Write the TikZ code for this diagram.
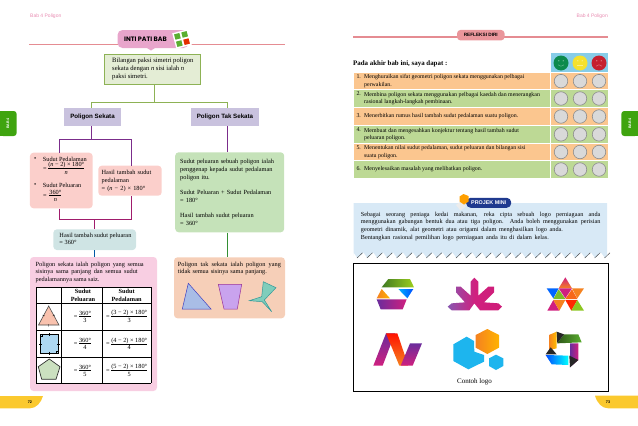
\documentclass[tikz,border=0pt]{standalone}
\usepackage{amsmath}
\usepackage{fontspec}
\setmainfont{Liberation Serif}
\setsansfont{Liberation Sans}
\newfontfamily\titlefont{Poppins}
\definecolor{pinkhead}{HTML}{E88DB2}
\definecolor{ruleline}{HTML}{E58C92}
\definecolor{titlepill}{HTML}{E8A5CB}
\definecolor{leafgreen}{HTML}{E4EDD5}
\definecolor{linegreen}{HTML}{8DB255}
\definecolor{lilac}{HTML}{C9C2DE}
\definecolor{linepurple}{HTML}{7B2D8B}
\definecolor{linewine}{HTML}{A01C6C}
\definecolor{rosebox}{HTML}{FBCFCB}
\definecolor{mistbox}{HTML}{CFE4E4}
\definecolor{mintbox}{HTML}{C5E2B9}
\definecolor{candybox}{HTML}{F8CEE2}
\definecolor{peachbox}{HTML}{F6CFB8}
\definecolor{tabgreen}{HTML}{3FA40F}
\definecolor{tabyellow}{HTML}{FBC92E}
\definecolor{roworange}{HTML}{FBC68F}
\definecolor{rowgreen}{HTML}{BDD995}
\definecolor{skybox}{HTML}{87CDE8}
\definecolor{paleblue}{HTML}{D8E9F6}
\definecolor{navy}{HTML}{1F3A8F}
\definecolor{hotpink}{HTML}{D0207F}
\definecolor{logopurple}{HTML}{6A2C9C}
\definecolor{logoorange}{HTML}{F58220}
\definecolor{logogreen}{HTML}{5BAE31}
\definecolor{logoblue}{HTML}{1DB5EE}
\definecolor{shapetri}{HTML}{F9C2AE}
\definecolor{shapesq}{HTML}{AED8F2}
\definecolor{shapepent}{HTML}{CBE0C0}
\definecolor{shapeblue}{HTML}{A9BDE6}
\definecolor{shapeviolet}{HTML}{C9A3EE}
\definecolor{shapeteal}{HTML}{7FCDBB}
\definecolor{moodgreen}{HTML}{0C8A4C}
\definecolor{moodyellow}{HTML}{F6E12C}
\definecolor{moodred}{HTML}{C5202F}
\newcommand{\pecahan}[2]{\(\vcenter{\offinterlineskip\ialign{\hfil##\hfil\cr
  \vrule height 4.7pt depth 0.7pt width 0pt #1\cr
  \noalign{\hrule height 0.4pt}
  \vrule height 5.8pt depth 0.6pt width 0pt #2\cr}}\)}
\newcommand{\penuh}[2]{\makebox[#1][s]{#2}}
\tikzset{
  bodytext/.style={font=\fontsize{6.3}{7.8}\selectfont, align=left, inner sep=0pt},
  box/.style={rounded corners=3.5pt, inner sep=0pt, align=left, font=\fontsize{6.3}{7.8}\selectfont},
  headbox/.style={fill=lilac, font=\sffamily\bfseries\fontsize{6.2}{7}\selectfont, minimum height=18pt, inner sep=0pt},
  headtext/.style={text=pinkhead, font=\sffamily\fontsize{5}{6}\selectfont, inner sep=0pt},
  pagerule/.style={ruleline, line width=1.2pt},
  tabnode/.style={fill=tabgreen, rounded corners=3pt, minimum width=20pt, minimum height=25pt},
  tabtext/.style={text=white, rotate=90, font=\sffamily\bfseries\fontsize{3.6}{4}\selectfont, inner sep=0pt},
  mood/.style={circle, draw=gray!90, fill=gray!30, line width=0.6pt, minimum size=13.5pt, inner sep=0pt},
  face/.style={circle, minimum size=15pt, inner sep=0pt},
  cell/.style={font=\fontsize{6.3}{7.4}\selectfont, inner sep=0pt, align=center},
  rowtext/.style={font=\fontsize{5.9}{7.5}\selectfont, align=left, inner sep=0pt, anchor=west},
  tickmark/.style={black, line width=0.35pt}
}
\begin{document}
\begin{tikzpicture}[x=1pt,y=-1pt]
\useasboundingbox (0,0) rectangle (638,426);
% left page
\node[headtext,anchor=west] (babL) at (30,16) {Bab 4 Poligon};
\coordinate (ruleLa) at (29,44.6);
\coordinate (ruleLb) at (285,44.6);
\draw[pagerule] (ruleLa) -- (ruleLb);
\fill[titlepill] (147,48) -- (151,50.5) -- (155,48) -- cycle;
\node[fill=titlepill, rounded corners=5pt, minimum width=71pt, minimum height=18pt, inner sep=0pt] (intipill) at (153,39) {};
\node[inner sep=0pt, font=\titlefont\bfseries\fontsize{6.4}{7}\selectfont] (intitext) at (145.5,39) {INTI PATI BAB};
\begin{scope}[shift={(182,39)},rotate=15]
\fill[white] (-8,-8) rectangle (8,8);
\fill[logogreen] (-6.5,-6.5) rectangle (-1,-1);
\fill[logogreen] (1,-6.5) rectangle (6.5,-1);
\fill[logogreen] (-6.5,1) rectangle (-1,6.5);
\fill[red!60!orange!90!black] (1,1) rectangle (6.5,6.5);
\end{scope}
\node[tabnode, minimum width=16.5pt, anchor=west] (tabL) at (0,123.5) {};
\fill[tabgreen] (0,111) rectangle (6,136);
\node[tabtext] (tabLtext) at (8,123.5) {BAB 4};

\node[box, rounded corners=0pt, fill=leafgreen, draw=linegreen, line width=0.7pt, minimum width=96pt, minimum height=30.5pt] (inti) at (152,69.2) {};
\node[bodytext, font=\fontsize{6.6}{7.8}\selectfont, anchor=west] (paksitext) at (112,69.2)
  {Bilangan paksi simetri poligon\\ sekata dengan \textit{n} sisi ialah \textit{n}\\ paksi simetri.};
\node[headbox, minimum width=57pt] (sekata) at (92.5,117) {Poligon Sekata};
\node[headbox, minimum width=68pt] (taksekata) at (225,117) {Poligon Tak Sekata};
\coordinate (tee) at (154,102);
\coordinate (teeL) at (91,102);
\coordinate (teeR) at (227,102);
\draw[linegreen, line width=0.8pt] (inti.south -| tee) -- (tee);
\draw[linegreen, line width=0.8pt] (sekata.north -| teeL) -- (teeL) -- (teeR) -- (taksekata.north -| teeR);

\node[box, fill=rosebox, minimum width=62.7pt, minimum height=55.6pt] (pedalaman) at (61.3,180.5) {};
\node[bodytext, anchor=west] (bulletA) at (34,159) {\textbullet};
\node[bodytext, anchor=west] (labelA) at (42.7,159) {Sudut Pedalaman};
\node[bodytext, anchor=west] (formulaA) at (43,168.7) {= \pecahan{(\textit{n} − 2) × 180°}{\textit{n}}};
\node[bodytext, anchor=west] (bulletB) at (34,185) {\textbullet};
\node[bodytext, anchor=west] (labelB) at (42.7,185) {Sudut Peluaran};
\node[bodytext, anchor=west] (formulaB) at (43,195.7) {= \,\pecahan{360°}{\textit{n}}};
\node[box, fill=rosebox, minimum width=63.4pt, minimum height=30pt, text width=56.6pt] (hasildalam) at (130,180.7)
  {Hasil tambah sudut\\ pedalaman\\ = (\textit{n} − 2) × 180°};
\node[box, fill=mistbox, minimum width=82.7pt, minimum height=20.7pt] (hasilluar) at (94.7,239.7) {};
\node[bodytext, anchor=west] (hasilluartext) at (59.3,238.8) {Hasil tambah sudut peluaran\\ = 360°};
\node[box, fill=mintbox, minimum width=109pt, minimum height=80pt, text width=99pt] (ciritak) at (229.7,192.3)
  {Sudut peluaran sebuah poligon ialah\\ penggenap kepada sudut pedalaman\\ poligon itu.\\[7.5pt]
   Sudut Peluaran + Sudut Pedalaman\\ = 180°\\[7.5pt]
   Hasil tambah sudut peluaran\\ = 360°};
\node[box, fill=candybox, minimum width=127pt, minimum height=134pt] (cirisekata) at (93.5,324) {};
\node[box, fill=peachbox, minimum width=111pt, minimum height=61pt] (contohtak) at (229.5,287.8) {};

\coordinate (purpleL) at (59.5,139);
\coordinate (purpleR) at (131,139);
\coordinate (winejoin) at (94,219.5);
\draw[linepurple, line width=0.8pt] (sekata.south -| teeL) -- (teeL |- purpleL);
\draw[linepurple, line width=0.8pt] (pedalaman.north -| purpleL) -- (purpleL) -- (purpleR) -- (hasildalam.north -| purpleR);
\draw[linepurple, line width=0.8pt] (taksekata.south -| teeR) -- (ciritak.north -| teeR);
\draw[linewine, line width=0.8pt] (pedalaman.south -| purpleL) -- (purpleL |- winejoin) -- (purpleR |- winejoin) -- (hasildalam.south -| purpleR);
\draw[linewine, line width=0.8pt] (winejoin) -- (hasilluar.north -| winejoin);
\draw[teal!70!blue, line width=0.8pt] (hasilluar.south -| winejoin) -- (cirisekata.north -| winejoin);
\draw[green!45!black!80, line width=0.8pt] (ciritak.south -| teeR) -- (contohtak.north -| teeR);

\node[bodytext, anchor=north west] (sekatatext) at (35.5,261.5)
  {\penuh{108pt}{Poligon sekata ialah poligon yang semua}\\ \penuh{102pt}{sisinya sama panjang dan semua sudut}\\ pedalamannya sama saiz.};
\node[bodytext, anchor=north west] (taktext) at (177.7,261.5)
  {\penuh{103pt}{Poligon tak sekata ialah poligon yang}\\ \penuh{89pt}{tidak semua sisinya sama panjang.}};
\filldraw[fill=shapeblue, draw=blue!50!gray, line width=0.5pt] (188.3,283.3) -- (211,309) -- (182.3,309) -- cycle;
\filldraw[fill=shapeviolet, draw=violet!80, line width=0.5pt] (218.3,284.3) -- (241.7,284.3) -- (237.3,309) -- (224,309) -- cycle;
\filldraw[fill=shapeteal, draw=teal!80, line width=0.5pt] (263.3,281.7) -- (276,287.7) -- (264.3,300) -- (271.7,311.7) -- (262.3,301.7) -- (249.3,300.7) -- (261.7,296.7) -- cycle;

% table
\fill[white] (36,287.3) rectangle (151,383);
\foreach \linex in {36,61.5,102.5,151}
  \draw[black, line width=0.8pt] (\linex,287.3) -- (\linex,383);
\foreach \liney in {287.3,303.5,330,357,383}
  \draw[black, line width=0.8pt] (36,\liney) -- (151,\liney);
\node[cell, font=\bfseries\fontsize{6.3}{7.6}\selectfont] (hluar) at (83,295.5) {Sudut\\ Peluaran};
\node[cell, font=\bfseries\fontsize{6.3}{7.6}\selectfont] (hdalam) at (126.7,295.5) {Sudut\\ Pedalaman};
\foreach \rowy/\sides/\nm in {316.7/3/tiga,344/4/empat,370.7/5/lima}{
  \node[cell] (luar\nm) at (82.5,\rowy) {= \pecahan{360°}{\sides}};
  \node[cell] (dalam\nm) at (126.7,\rowy) {= \pecahan{(\sides\ − 2) × 180°}{\sides}};
}
\filldraw[fill=shapetri, draw=black!70, line width=0.6pt] (48.7,306) -- (59,325) -- (38.5,325) -- cycle;
\filldraw[fill=shapesq, draw=black, line width=0.7pt] (40.5,334.5) rectangle (58.5,353);
\draw[tickmark] (49.5,333) -- (49.5,336) (49.5,351.5) -- (49.5,354.5) (39,343.7) -- (42,343.7) (57,343.7) -- (60,343.7);
\draw[tickmark] (40.5,336.5) -| (42.5,334.5) (58.5,351) -| (56.5,353);
\draw[tickmark] (48.7,324) -- (48.7,326.5) (42.5,315) -- (44.7,316) (52.7,316) -- (54.9,315);
\filldraw[fill=shapepent, draw=black!80, line width=0.7pt] (49.3,359) -- (60,366.7) -- (56,379.3) -- (41.7,379.3) -- (38.3,366.7) -- cycle;

\fill[tabyellow] (0,396) -- (43,396) .. controls (41,403) and (36,408.3) .. (30,408.3) -- (0,408.3) -- cycle;
\node[font=\sffamily\bfseries\fontsize{3.8}{4}\selectfont, inner sep=0pt] (pageL) at (30,401.7) {72};

% right page
\node[headtext,anchor=east] (babR) at (608,16) {Bab 4 Poligon};
\coordinate (ruleRa) at (353,37);
\coordinate (ruleRb) at (608,37);
\draw[pagerule] (ruleRa) -- (ruleRb);
\node[fill=ruleline!80!pink, rounded corners=3.5pt, minimum width=47.5pt, minimum height=10.5pt, inner sep=0pt, font=\sffamily\bfseries\fontsize{4.7}{5}\selectfont] (refleksi) at (480.8,35.2) {REFLEKSI DIRI};
\node[tabnode, minimum width=16.5pt, anchor=east] (tabR) at (638,123.5) {};
\fill[tabgreen] (632,111) rectangle (638,136);
\node[tabtext] (tabRtext) at (630,123.5) {BAB 4};

\node[font=\bfseries\fontsize{6.9}{8}\selectfont, inner sep=0pt, anchor=west] (akhir) at (353,63.5) {Pada akhir bab ini, saya dapat :};
\fill[skybox] (551,53) rectangle (608,72);
\foreach \fx/\fc/\nm/\bend in {561/moodgreen/senyum/1,580/moodyellow/biasa/0,599/moodred/sedih/-1}{
  \node[face, fill=\fc] (\nm) at (\fx,63) {};
  \fill[white!45!\fc] (\fx-2.2,60.8) circle (0.7) (\fx+2.2,60.8) circle (0.7);
  \draw[white!45!\fc, line width=0.4pt] (\fx-3,65.5-\bend*0.7) .. controls (\fx-1,65.5+\bend*1.2) and (\fx+1,65.5+\bend*1.2) .. (\fx+3,65.5-\bend*0.7);
}
\foreach \n/\ya/\yb/\rowc/\rowt in {
  1/73.3/89/roworange/{Menghuraikan sifat geometri poligon sekata menggunakan pelbagai\\ perwakilan.},
  2/90/107/rowgreen/{Membina poligon sekata menggunakan pelbagai kaedah dan menerangkan\\ rasional langkah-langkah pembinaan.},
  3/108/125/roworange/{Menerbitkan rumus hasil tambah sudut pedalaman suatu poligon.},
  4/126/142.7/rowgreen/{Membuat dan mengesahkan konjektur tentang hasil tambah sudut\\ peluaran poligon.},
  5/144/160/roworange/{Menentukan nilai sudut pedalaman, sudut peluaran dan bilangan sisi\\ suatu poligon.},
  6/161/178/rowgreen/{Menyelesaikan masalah yang melibatkan poligon.}}{
  \fill[\rowc] (353.5,\ya) rectangle (550,\yb);
  \fill[\rowc] (551,\ya) rectangle (608,\yb);
  \node[rowtext] (row\n) at (364,{(\ya+\yb)/2}) {\rowt};
  \node[rowtext, anchor=north west] (num\n) at ([xshift=-7.7pt]row\n.north west) {\n.};
  \node[mood] (cA\n) at (561,{(\ya+\yb)/2}) {};
  \node[mood] (cB\n) at (580,{(\ya+\yb)/2}) {};
  \node[mood] (cC\n) at (599,{(\ya+\yb)/2}) {};
}
\fill[tabyellow] (638,395.7) -- (595,395.7) .. controls (597,403) and (602,408.3) .. (608,408.3) -- (638,408.3) -- cycle;
\node[font=\sffamily\bfseries\fontsize{3.8}{4}\selectfont, inner sep=0pt] (pageR) at (608,401.7) {73};
% projek mini
\fill[paleblue] (353.5,203) -- (607,203) -- (607,255)
  \foreach \i in {0,...,25} { -- ({605-\i*9.9},258) -- ({605-\i*9.9-4},252.5) } -- (353.5,256) -- cycle;
\foreach \i in {0,...,25}
  \draw[black!70, line width=0.45pt] ({357+\i*9.9},258) -- ({362.5+\i*9.9},252.8);
\node[fill=navy, rounded corners=4.5pt, minimum width=45pt, minimum height=10pt, inner sep=0pt, text=white, font=\sffamily\bfseries\fontsize{5.4}{6}\selectfont] (projek) at (488.7,202.8) {PROJEK MINI};
\fill[white!85!gray] (456,205) -- (461,201) -- (466,206.5) -- (460.5,210.5) -- cycle;
\fill[orange!75!yellow] (463.5,194) -- (468.5,196) -- (468.5,201.5) -- (464,204.5) -- (459.5,201.5) -- (459.5,196.5) -- cycle;
\node[bodytext, font=\fontsize{6.2}{7.4}\selectfont, anchor=north west] (projektext) at (360.7,212)
  {\penuh{239.5pt}{Sebagai seorang peniaga kedai makanan, reka cipta sebuah logo perniagaan anda}\\ \penuh{239.5pt}{menggunakan gabungan bentuk dua atau tiga poligon. Anda boleh menggunakan perisian}\\ \penuh{202pt}{geometri dinamik, alat geometri atau origami dalam menghasilkan logo anda.}\\[1pt]
   \penuh{188pt}{Bentangkan rasional pemilihan logo perniagaan anda itu di dalam kelas.}};

\draw[black, line width=0.9pt] (353.5,263.3) rectangle (608,391);
\node[font=\fontsize{7}{8}\selectfont, inner sep=0pt] (contoh) at (474.5,381.5) {Contoh logo};
\begin{scope}[shift={(340,255)},scale=1/3]
% logo one
\shade[left color=logogreen!70!black, right color=logogreen!60!yellow] (145,72) -- (210,72) -- (222,97) -- (125,97) -- cycle;
\shade[left color=logoorange, right color=orange!60!yellow] (125,102) -- (150,130) -- (110,130) -- cycle;
\shade[left color=cyan!70!blue, right color=blue!70!cyan] (175,102) -- (220,102) -- (202,130) -- cycle;
\shade[left color=logopurple, right color=hotpink] (110,133) -- (200,133) -- (188,163) -- (122,163) -- cycle;
% logo two
\shade[left color=logopurple!80, right color=hotpink!90!purple, middle color=hotpink]
  (403,68) -- (415,80) -- (415,122) -- (445,95) -- (462,95) -- (462,112) -- (432,142) -- (475,145) -- (486,155) -- (475,166) -- (420,166) -- (403,145) -- (388,166) -- (335,166) -- (323,155) -- (335,145) -- (375,142) -- (348,112) -- (348,95) -- (362,95) -- (392,122) -- (392,80) -- cycle;
% logo three
\shade[top color=hotpink, bottom color=logoorange] (676,67) -- (696,100) -- (656,100) -- cycle;
\fill[blue!60!cyan] (620,100) -- (656,100) -- (640,130) -- cycle;
\fill[logoorange] (696,100) -- (732,100) -- (712,130) -- cycle;
\fill[hotpink] (656,100) -- (696,100) -- (676,130) -- cycle;
\fill[logogreen!80!yellow] (656,103) -- (676,132) -- (640,132) -- cycle;
\fill[logoorange!80!red] (696,103) -- (712,132) -- (676,132) -- cycle;
\fill[hotpink] (640,135) -- (658,167) -- (622,167) -- cycle;
\fill[logoorange] (640,135) -- (676,135) -- (658,167) -- cycle;
\fill[red!70!orange] (676,135) -- (712,135) -- (694,167) -- cycle;
\fill[logogreen!70!yellow] (712,135) -- (732,167) -- (694,167) -- cycle;
% logo four
\shade[bottom color=hotpink, top color=logopurple] (138,235) -- (165,235) -- (128,332) -- (100,332) -- cycle;
\shade[bottom color=logoorange, top color=red!85!orange] (138,235) -- (172,235) -- (205,332) -- (178,332) -- cycle;
\shade[bottom color=hotpink, top color=logopurple] (210,265) -- (246,265) -- (218,332) -- (182,332) -- cycle;
% logo five
\fill[logoblue] (340,268) -- (380,245) -- (402,258) -- (403,290) -- (432,300) -- (432,320) -- (385,343) -- (340,318) -- cycle;
\shade[left color=logoorange, right color=orange!60!yellow] (442,222) -- (477,240) -- (477,278) -- (442,297) -- (407,278) -- (407,240) -- cycle;
\fill[logoblue] (468,299) -- (490,310) -- (490,333) -- (468,345) -- (447,333) -- (447,310) -- cycle;
% logo six
\shade[left color=logoorange, right color=orange!50!yellow] (627,240) -- (650,230) -- (650,280) -- (627,285) -- cycle;
\shade[left color=logogreen!50!black, right color=logogreen] (672,238) -- (715,238) -- (725,262) -- (652,265) -- cycle;
\shade[left color=logopurple, right color=hotpink] (690,265) -- (715,265) -- (715,315) -- (690,337) -- cycle;
\shade[left color=blue!70!cyan, right color=cyan] (617,300) -- (685,302) -- (685,330) -- (635,328) -- cycle;
\fill[black!85] (650,230) -- (672,238) -- (652,265) -- cycle;
\fill[black!85] (617,298) -- (632,277) -- (650,298) -- cycle;
\fill[black!85] (688,302) -- (715,315) -- (690,337) -- cycle;
\end{scope}
\end{tikzpicture}
\end{document}
